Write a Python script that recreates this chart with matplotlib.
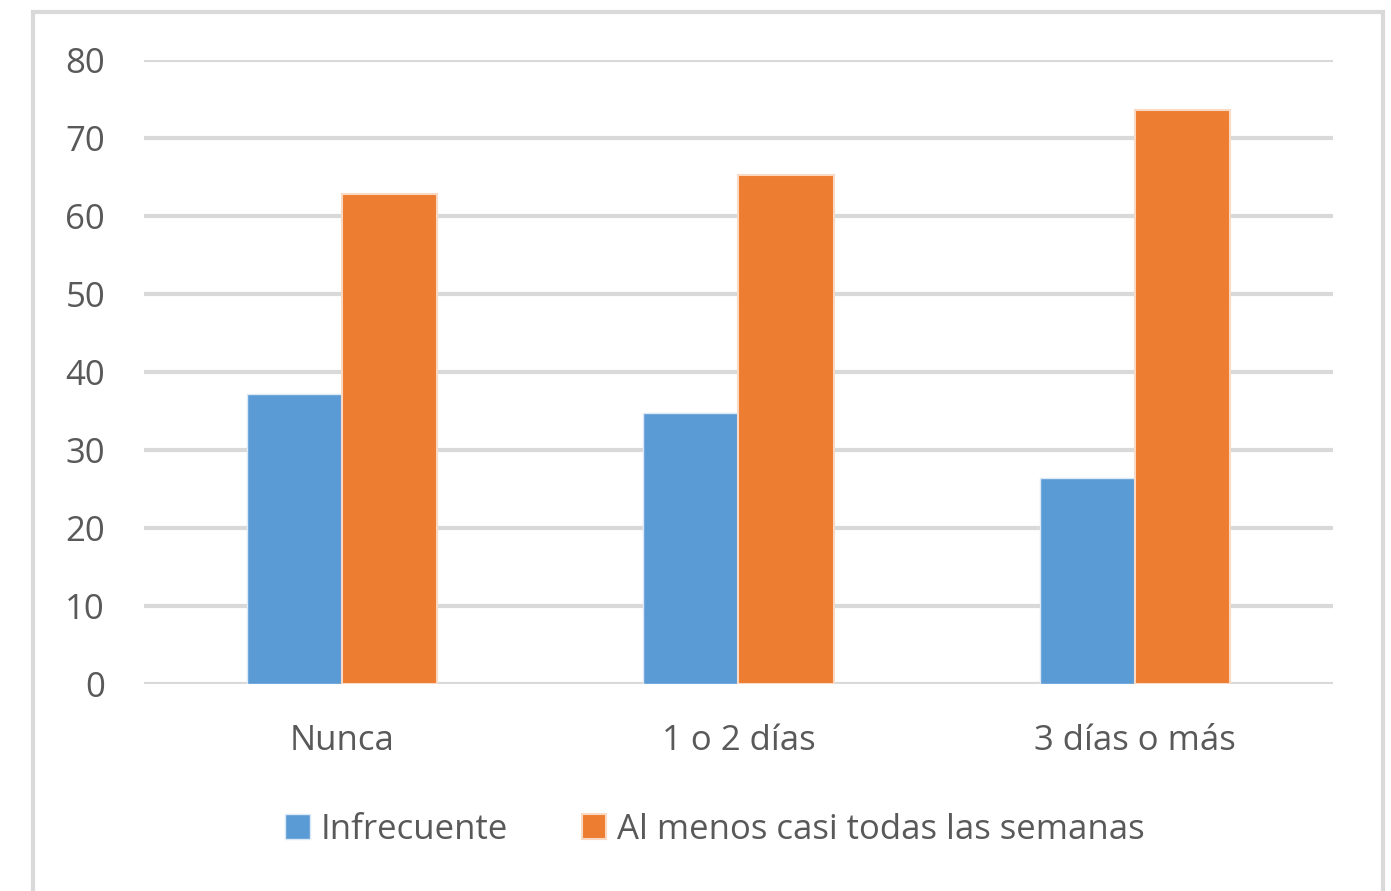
import matplotlib.pyplot as plt
from matplotlib.patches import Rectangle
import numpy as np

plt.rcParams['font.family'] = ['Open Sans', 'DejaVu Sans']

# datos
categorias = ['Nunca', '1 o 2 días', '3 días o más']
infrecuente = [37.2, 34.7, 26.4]
semanal = [62.8, 65.3, 73.6]
series = ['Infrecuente', 'Al menos casi todas las semanas']

azul = '#5b9bd5'
naranja = '#ed7d31'
gris_txt = '#595959'

fig = plt.figure(figsize=(13.91, 8.91), dpi=100)
ax = fig.add_axes([0.1035, 0.2323, 0.8548, 0.7004])

x = np.arange(len(categorias))
w = 0.24
ax.bar(x - w / 2, infrecuente, w, color=azul, edgecolor='#dbe8f5', linewidth=1, label=series[0], zorder=3)
ax.bar(x + w / 2, semanal, w, color=naranja, edgecolor='#f9d9c3', linewidth=1.5, label=series[1], zorder=3)

ax.set_xlim(-0.5, 2.5)
ax.set_ylim(0, 80)
ax.set_yticks(range(0, 81, 10))
ax.set_xticks(x)
ax.set_xticklabels(categorias)
ax.grid(axis='y', color='#d9d9d9', linewidth=3, zorder=0)
for s in ax.spines.values():
    s.set_visible(False)
ax.tick_params(length=0, labelsize=25, colors=gris_txt)
ax.tick_params(axis='y', pad=28)
ax.tick_params(axis='x', pad=29)

# marco exterior
fig.patches.append(Rectangle((33 / 1391, -0.1), 1350 / 1391, 1.1 - 12 / 891, transform=fig.transFigure,
                             fill=False, edgecolor='#d9d9d9', linewidth=3))

h, l = ax.get_legend_handles_labels()
fig.legend(h, l, loc='center', bbox_to_anchor=(0.514, 0.069), ncol=2, frameon=False,
           fontsize=25, labelcolor=gris_txt, handlelength=0.7, handleheight=0.7,
           handletextpad=0.3, columnspacing=2.15)

plt.savefig('out.png', dpi=100)
